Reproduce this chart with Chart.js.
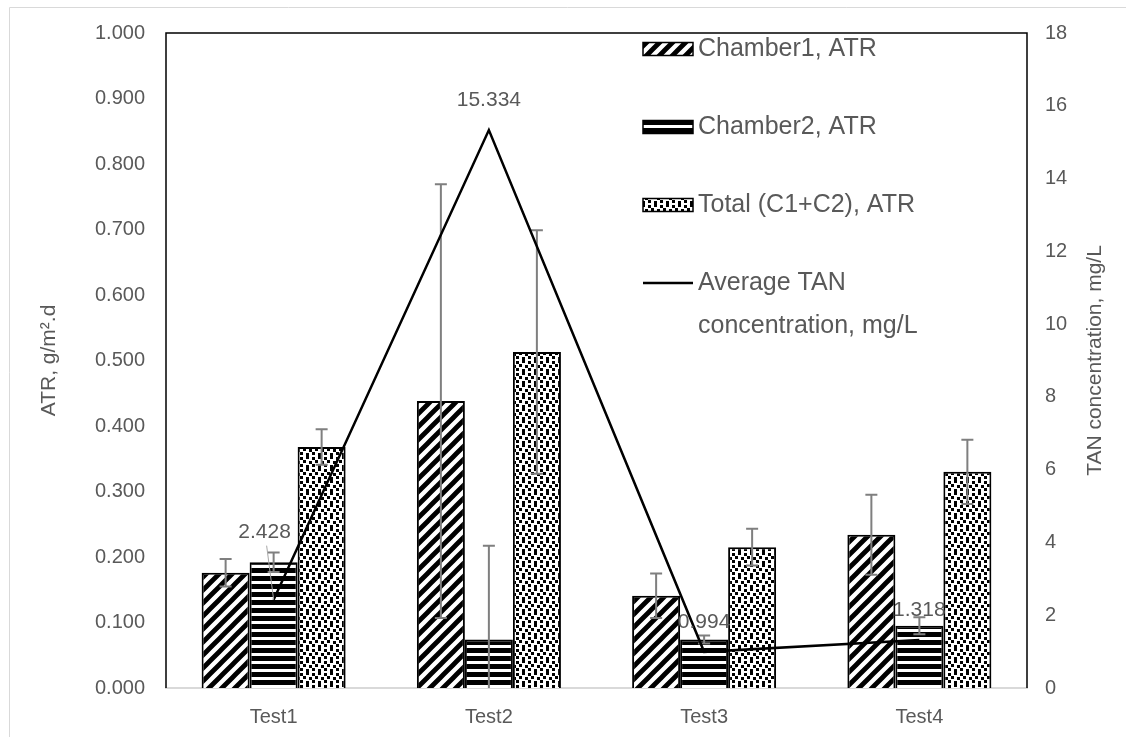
<!DOCTYPE html>
<html><head><meta charset="utf-8">
<script src="https://cdn.jsdelivr.net/npm/chart.js@4.4.0/dist/chart.umd.min.js"></script>
<style>html,body{margin:0;padding:0;background:#fff}#wrap{width:1126px;height:737px;position:relative}</style>
</head><body><div id="wrap"><canvas id="c" width="1126" height="737"></canvas></div>
<script>
// ---- data ----
const categories = ['Test1', 'Test2', 'Test3', 'Test4'];
const chamber1 = [0.176, 0.438, 0.141, 0.234];
const chamber1Err = [0.021, 0.331, 0.034, 0.061];
const chamber2 = [0.192, 0.074, 0.074, 0.095];
const chamber2Err = [0.015, 0.143, 0.006, 0.013];
const total = [0.368, 0.513, 0.215, 0.330];
const totalErr = [0.027, 0.186, 0.028, 0.049];
const tanAvg = [2.428, 15.334, 0.994, 1.318];
const seriesNames = ['Chamber1, ATR', 'Chamber2, ATR', 'Total (C1+C2), ATR', ['Average TAN', 'concentration, mg/L']];
const leftTitle = 'ATR, g/m\u00B2.d';
const rightTitle = 'TAN concentration, mg/L';

// ---- styles ----
const TXT = '#595959';
const FONT = "'Liberation Sans', Arial, sans-serif";
const labelOffsets = [[-9, -67], [0, -30], [0, -30], [0, -30]];

function makePattern(kind) {
  const c = document.createElement('canvas');
  const g = c.getContext('2d');
  if (kind === 'diag') {
    const s = 13; c.width = s; c.height = s;
    g.fillStyle = '#fff'; g.fillRect(0, 0, s, s);
    g.strokeStyle = '#000'; g.lineWidth = 4.8;
    g.beginPath();
    for (const k of [0, s, 2 * s]) { g.moveTo(-5, k + 5); g.lineTo(k + 5, -5); }
    g.moveTo(s - 5, 2 * s + 5); g.lineTo(2 * s + 5, s - 5);
    g.stroke();
  } else if (kind === 'horiz') {
    c.width = 8; c.height = 8;
    g.fillStyle = '#fff'; g.fillRect(0, 0, 8, 8);
    g.fillStyle = '#000'; g.fillRect(0, 0, 8, 5);
  } else {
    const s = 12; c.width = s; c.height = s;
    g.fillStyle = '#fff'; g.fillRect(0, 0, s, s);
    g.fillStyle = '#000';
    [[0, 1], [6, 0], [3, 4], [9, 5], [0, 8], [6, 9]].forEach(p => g.fillRect(p[0], p[1], 3, 3));
  }
  return document.getElementById('c').getContext('2d').createPattern(c, 'repeat');
}
const patDiag = makePattern('diag');
const patHoriz = makePattern('horiz');
const patDots = makePattern('dots');

const framePlugin = {
  id: 'frame',
  beforeDraw(chart) {
    const ctx = chart.ctx;
    ctx.save();
    ctx.strokeStyle = '#d9d9d9'; ctx.lineWidth = 1;
    ctx.beginPath();
    ctx.moveTo(9.5, 737); ctx.lineTo(9.5, 7.5); ctx.lineTo(1126, 7.5);
    ctx.stroke();
    ctx.restore();
  },
  beforeDatasetsDraw(chart) {
    const a = chart.chartArea, ctx = chart.ctx;
    ctx.save();
    ctx.strokeStyle = '#000'; ctx.lineWidth = 1.5;
    ctx.beginPath();
    ctx.moveTo(a.left, a.bottom); ctx.lineTo(a.left, a.top); ctx.lineTo(a.right, a.top); ctx.lineTo(a.right, a.bottom);
    ctx.stroke();
    // axis titles
    ctx.fillStyle = TXT; ctx.font = '21px ' + FONT; ctx.textAlign = 'center'; ctx.textBaseline = 'middle';
    const cy = (a.top + a.bottom) / 2;
    ctx.translate(49, cy); ctx.rotate(-Math.PI / 2); ctx.fillText(leftTitle, 0, 0);
    ctx.setTransform(1, 0, 0, 1, 0, 0);
    ctx.translate(1095, cy); ctx.rotate(-Math.PI / 2); ctx.fillText(rightTitle, 0, 0);
    ctx.restore();
  }
};

const errPlugin = {
  id: 'errbars',
  afterDatasetDraw(chart, args) {
    const ds = chart.data.datasets[args.index];
    if (!ds.errors) return;
    const ctx = chart.ctx, ys = chart.scales.y, a = chart.chartArea;
    ctx.save();
    ctx.beginPath(); ctx.rect(a.left, a.top, a.right - a.left, a.bottom - a.top); ctx.clip();
    ctx.strokeStyle = '#7f7f7f'; ctx.lineWidth = 2;
    args.meta.data.forEach((el, i) => {
      const v = ds.data[i], e = ds.errors[i];
      const yh = ys.getPixelForValue(v + e), yl = ys.getPixelForValue(v - e);
      ctx.beginPath();
      ctx.moveTo(el.x, yh); ctx.lineTo(el.x, yl);
      ctx.moveTo(el.x - 6, yh); ctx.lineTo(el.x + 6, yh);
      ctx.moveTo(el.x - 6, yl); ctx.lineTo(el.x + 6, yl);
      ctx.stroke();
    });
    ctx.restore();
  }
};

const labelPlugin = {
  id: 'lineLabels',
  afterDatasetsDraw(chart) {
    const idx = 3;
    const meta = chart.getDatasetMeta(idx);
    const ctx = chart.ctx;
    ctx.save();
    ctx.font = '21px ' + FONT; ctx.fillStyle = TXT; ctx.textAlign = 'center'; ctx.textBaseline = 'middle';
    meta.data.forEach((pt, i) => {
      const [dx, dy] = labelOffsets[i];
      const lx = pt.x + dx, ly = pt.y + dy;
      ctx.fillText(tanAvg[i].toFixed(3), lx, ly);
      if (dy < -40) {
        ctx.strokeStyle = '#a6a6a6'; ctx.lineWidth = 1;
        ctx.beginPath(); ctx.moveTo(lx + 2, ly + 13); ctx.lineTo(pt.x, pt.y); ctx.stroke();
      }
    });
    ctx.restore();
  },
  afterDraw(chart) {
    // legend
    const ctx = chart.ctx;
    const lx = 643, y0 = 49, step = 78;
    ctx.save();
    ctx.font = '25px ' + FONT; ctx.fillStyle = TXT; ctx.textBaseline = 'middle'; ctx.textAlign = 'left';
    chart.data.datasets.forEach((ds, i) => {
      const cy = y0 + step * i;
      if (ds.type === 'line') {
        ctx.strokeStyle = '#000'; ctx.lineWidth = 2.5;
        ctx.beginPath(); ctx.moveTo(lx, cy); ctx.lineTo(lx + 50, cy); ctx.stroke();
      } else {
        ctx.fillStyle = ds.backgroundColor; ctx.fillRect(lx, cy - 6.5, 50, 13);
        ctx.strokeStyle = '#000'; ctx.lineWidth = 1.5; ctx.strokeRect(lx, cy - 6.5, 50, 13);
      }
      ctx.fillStyle = TXT;
      const name = seriesNames[i];
      const lines = Array.isArray(name) ? name : [name];
      lines.forEach((t, j) => ctx.fillText(t, lx + 55, cy + j * 43));
    });
    ctx.restore();
  }
};

new Chart(document.getElementById('c'), {
  type: 'bar',
  data: {
    labels: categories,
    datasets: [
      { label: 'Chamber1, ATR', data: chamber1, errors: chamber1Err, backgroundColor: patDiag, borderColor: '#000', borderWidth: 2, yAxisID: 'y', order: 1 },
      { label: 'Chamber2, ATR', data: chamber2, errors: chamber2Err, backgroundColor: patHoriz, borderColor: '#000', borderWidth: 2, yAxisID: 'y', order: 1 },
      { label: 'Total (C1+C2), ATR', data: total, errors: totalErr, backgroundColor: patDots, borderColor: '#000', borderWidth: 2, yAxisID: 'y', order: 1 },
      { type: 'line', label: 'Average TAN concentration, mg/L', data: tanAvg, borderColor: '#000', borderWidth: 2.5, pointRadius: 0, tension: 0, fill: false, yAxisID: 'y1', order: 0 }
    ]
  },
  options: {
    responsive: false, animation: false, devicePixelRatio: 1,
    layout: { padding: { left: 0, right: 0, top: 32, bottom: 0 } },
    categoryPercentage: 0.669, barPercentage: 1.0,
    plugins: { legend: { display: false }, tooltip: { enabled: false } },
    scales: {
      x: {
        grid: { display: false, drawTicks: false },
        border: { display: true, color: '#d9d9d9', width: 2 },
        ticks: { color: TXT, font: { family: FONT, size: 20 }, padding: 17 },
        afterFit(s) { s.height = 49; }
      },
      y: {
        position: 'left', min: 0, max: 1,
        grid: { display: false, drawTicks: false },
        border: { display: false },
        ticks: { stepSize: 0.1, color: TXT, font: { family: FONT, size: 20 }, padding: 21, callback: v => Number(v).toFixed(3) },
        afterFit(s) { s.width = 166; }
      },
      y1: {
        position: 'right', min: 0, max: 18,
        grid: { display: false, drawTicks: false },
        border: { display: false },
        ticks: { stepSize: 2, color: TXT, font: { family: FONT, size: 20 }, padding: 18 },
        afterFit(s) { s.width = 99; }
      }
    }
  },
  plugins: [framePlugin, errPlugin, labelPlugin]
});
</script>
</body></html>
